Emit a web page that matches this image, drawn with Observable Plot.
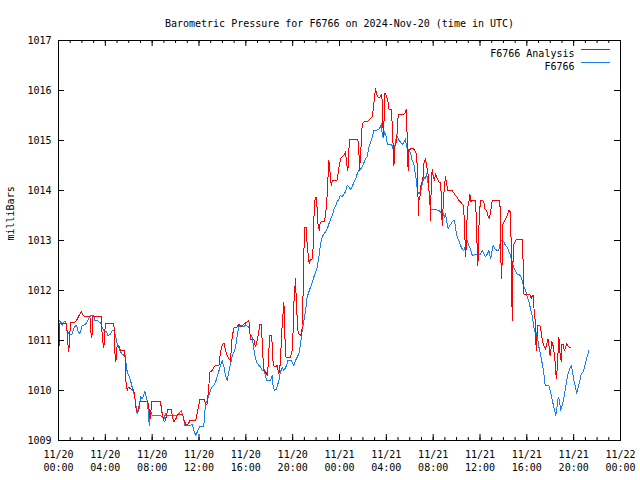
<!DOCTYPE html>
<html>
<head>
<meta charset="utf-8">
<script src="https://cdn.jsdelivr.net/npm/d3@7"></script>
<script src="https://cdn.jsdelivr.net/npm/@observablehq/plot@0.6"></script>
<style>
  html, body { margin: 0; padding: 0; background: #fff; }
  #chart svg { display: block; }
</style>
</head>
<body>
<div id="chart"></div>
<script>
const chartTitle = "Barometric Pressure for F6766 on 2024-Nov-20 (time in UTC)";
const yLabel = "milliBars";
const seriesNames = ["F6766 Analysis", "F6766"];
const seriesColors = ["#ff0000", "#1a80f0"];
const startDay = Date.UTC(2024, 10, 20);
const xDomainHours = [0, 48];
const yDomain = [1009, 1017];
const yTicks = [1009, 1010, 1011, 1012, 1013, 1014, 1015, 1016, 1017];
const majorTickHours = [0, 4, 8, 12, 16, 20, 24, 28, 32, 36, 40, 44, 48];
const minorTickHours = d3.range(0, 49, 1);

// F6766 Analysis (red): hours since 11/20 00:00 UTC, pressure in mb
const analysisHours = [
  0, 0.05, 0.12, 0.68, 0.8, 0.88, 1.03, 1.45, 1.6, 1.75,
  1.96, 2.16, 2.68, 2.76, 2.85, 2.93, 3.64, 3.76, 3.87, 3.96,
  4.04, 4.73, 4.81, 4.9, 5.0, 5.15, 5.3, 5.64, 5.7, 5.75,
  5.87, 5.95, 6.15, 6.38, 6.49, 6.6, 6.72, 6.83, 6.95, 7.06,
  7.63, 7.75, 7.83, 7.97, 8.71, 8.83, 9.0, 9.08, 9.23, 9.34,
  9.62, 9.71, 9.85, 10.02, 10.19, 10.59, 10.7, 10.85, 10.99, 11.13,
  11.22, 11.73, 11.9, 12.07, 12.43, 12.56, 12.7, 12.81, 12.93, 13.13,
  13.27, 13.41, 13.7, 13.84, 13.98, 14.13, 14.27, 14.41, 14.55, 14.69,
  14.83, 14.98, 15.26, 15.4, 15.55, 15.69, 15.97, 16.26, 16.34, 16.4,
  16.69, 16.83, 17.03, 17.2, 17.34, 17.42, 17.54, 17.71, 17.82, 17.91,
  18.03, 18.2, 18.25, 18.34, 18.54, 18.68, 18.82, 18.96, 19.05, 19.16,
  19.25, 19.31, 19.39, 19.82, 19.96, 20.04, 20.1, 20.24, 20.33, 20.45,
  20.53, 20.73, 20.84, 20.9, 21.01, 21.18, 21.24, 21.33, 21.41, 21.47,
  21.67, 21.76, 21.82, 21.9, 22.01, 22.1, 22.16, 22.27, 22.33, 22.44,
  22.72, 22.81, 22.95, 23.09, 23.18, 23.29, 23.38, 23.8, 23.95, 24.09,
  24.23, 24.37, 24.52, 24.6, 24.72, 24.8, 24.89, 25.57, 25.66, 25.71,
  25.8, 25.94, 26.08, 26.36, 26.6, 26.8, 26.88, 26.96, 27.08, 27.16,
  27.28, 27.5, 27.56, 27.65, 27.71, 27.76, 27.82, 27.88, 27.99, 28.13,
  28.22, 28.45, 28.5, 28.59, 28.65, 28.7, 28.87, 29.02, 29.21, 29.5,
  29.64, 29.7, 29.79, 29.86, 29.93, 30.07, 30.21, 30.36, 30.5, 30.58,
  30.64, 30.69, 30.75, 30.8, 30.86, 30.92, 31.05, 31.15, 31.2, 31.35,
  31.49, 31.6, 31.66, 31.72, 31.78, 31.83, 31.92, 32.01, 32.12, 32.2,
  32.35, 32.49, 32.63, 32.7, 32.77, 32.86, 32.97, 33.06, 33.15, 33.26,
  33.63, 33.77, 33.91, 34.05, 34.19, 34.33, 34.48, 34.6, 34.68, 34.77,
  34.85, 34.91, 35.05, 35.14, 35.2, 35.34, 35.62, 35.71, 35.76, 35.82,
  35.88, 35.94, 36.05, 36.19, 36.33, 36.42, 36.56, 36.68, 36.79, 36.9,
  37.04, 37.7, 37.76, 37.82, 37.88, 37.93, 38.04, 38.18, 38.32, 38.47,
  38.61, 38.67, 38.75, 38.82, 38.89, 39.04, 39.18, 39.6, 39.66, 39.72,
  39.8, 40.18, 40.3, 40.38, 40.47, 40.55, 40.6, 40.69, 40.75, 40.8,
  40.86, 40.94, 41.11, 41.2, 41.26, 41.33, 41.4, 41.5, 41.6, 41.7,
  41.8, 41.88, 41.94, 42.03, 42.11, 42.2, 42.31, 42.4, 42.45, 42.51,
  42.6, 42.66, 42.74, 42.8, 42.88, 42.94, 43.0, 43.1, 43.17, 43.23,
  43.31, 43.39, 43.5, 43.59, 43.79
];
const analysisValues = [
  1011.2, 1010.9, 1011.35, 1011.35, 1010.93, 1010.77, 1011.37, 1011.37, 1011.43, 1011.5,
  1011.57, 1011.49, 1011.49, 1011.17, 1011.05, 1011.48, 1011.48, 1011.0, 1010.85, 1011.2,
  1011.35, 1011.35, 1010.77, 1010.57, 1010.87, 1010.9, 1010.8, 1010.8, 1010.6, 1010.2,
  1010.0, 1010.07, 1010.03, 1010.03, 1009.93, 1009.67, 1009.57, 1009.63, 1009.77, 1009.78,
  1009.78, 1009.6, 1009.43, 1009.78, 1009.78, 1009.57, 1009.4, 1009.37, 1009.5, 1009.63,
  1009.63, 1009.5, 1009.37, 1009.43, 1009.53, 1009.53, 1009.43, 1009.33, 1009.31, 1009.35,
  1009.41, 1009.41, 1009.6, 1009.83, 1009.83, 1009.73, 1009.73, 1010.0, 1010.37, 1010.4,
  1010.47, 1010.5, 1010.5, 1010.77, 1010.9, 1010.95, 1010.8, 1010.7, 1010.63, 1010.6,
  1011.07, 1011.25, 1011.27, 1011.33, 1011.28, 1011.3, 1011.35, 1011.4, 1011.17, 1011.03,
  1011.01, 1010.87, 1011.07, 1011.33, 1011.33, 1010.8, 1010.4, 1010.37, 1010.3, 1010.5,
  1011.1, 1011.1, 1010.93, 1010.5, 1010.47, 1010.5, 1010.33, 1010.57, 1011.13, 1011.47,
  1011.77, 1011.33, 1010.67, 1010.67, 1010.8, 1011.2, 1011.73, 1012.23, 1011.67, 1011.2,
  1011.13, 1011.1, 1011.3, 1012.13, 1013.27, 1013.27, 1012.87, 1012.73, 1012.53, 1012.6,
  1012.63, 1012.9, 1013.47, 1013.8, 1013.87, 1013.6, 1013.33, 1013.2, 1013.33, 1013.37,
  1013.39, 1013.5, 1013.93, 1014.6, 1014.4, 1014.1, 1014.2, 1014.21, 1014.47, 1014.63,
  1014.68, 1014.7, 1014.77, 1014.53, 1014.4, 1014.83, 1015.02, 1015.02, 1014.75, 1014.4,
  1014.7, 1015.33, 1015.37, 1015.38, 1015.43, 1015.47, 1015.63, 1015.8, 1016.03, 1015.93,
  1015.87, 1015.87, 1015.93, 1015.8, 1015.27, 1015.07, 1015.53, 1015.95, 1015.9, 1015.8,
  1015.63, 1015.63, 1015.27, 1014.87, 1014.5, 1014.87, 1014.97, 1015.53, 1015.53, 1015.52,
  1015.57, 1015.63, 1015.0, 1014.4, 1014.83, 1014.83, 1014.85, 1014.82, 1014.77, 1014.73,
  1014.47, 1014.0, 1013.5, 1013.87, 1013.83, 1014.07, 1014.17, 1014.3, 1014.53, 1014.63,
  1014.43, 1014.27, 1013.9, 1013.77, 1013.4, 1014.1, 1014.43, 1014.27, 1014.2, 1014.33,
  1014.23, 1014.17, 1014.17, 1013.87, 1013.3, 1013.73, 1014.13, 1014.27, 1014.13, 1014.0,
  1014.0, 1013.95, 1013.9, 1013.87, 1013.8, 1013.77, 1013.73, 1013.7, 1013.27, 1012.67,
  1013.0, 1013.6, 1013.77, 1013.93, 1013.77, 1013.81, 1013.8, 1013.27, 1012.83, 1012.5,
  1013.0, 1013.53, 1013.8, 1013.8, 1013.77, 1013.63, 1013.6, 1013.5, 1013.43, 1013.57,
  1013.8, 1013.8, 1013.03, 1012.23, 1012.5, 1013.3, 1013.37, 1013.43, 1013.5, 1013.6,
  1013.57, 1012.8, 1011.4, 1012.6, 1012.93, 1013.0, 1013.03, 1013.03, 1012.83, 1011.93,
  1011.93, 1011.93, 1011.9, 1011.83, 1011.9, 1011.9, 1011.67, 1011.47, 1011.17, 1010.8,
  1011.07, 1011.3, 1011.3, 1011.2, 1011.1, 1011.0, 1010.93, 1010.87, 1010.83, 1010.93,
  1011.03, 1010.93, 1010.73, 1010.7, 1010.97, 1010.95, 1010.8, 1010.6, 1010.47, 1010.23,
  1010.43, 1010.73, 1011.07, 1010.8, 1010.7, 1010.57, 1010.93, 1010.93, 1010.83, 1010.8,
  1010.87, 1010.93, 1010.9, 1010.87, 1010.85
];

// F6766 observed (blue)
const stationHours = [
  0, 0.17, 0.34, 0.46, 0.6, 0.74, 0.88, 1.17, 1.37, 1.54,
  1.65, 1.82, 2.02, 2.3, 2.5, 2.68, 2.79, 3.02, 3.1, 3.36,
  3.59, 3.73, 3.87, 4.1, 4.21, 4.44, 4.58, 4.73, 4.87, 5.01,
  5.15, 5.3, 5.44, 5.58, 5.64, 5.75, 5.87, 6.0, 6.15, 6.29,
  6.38, 6.49, 6.6, 6.72, 6.86, 7.0, 7.14, 7.23, 7.37, 7.46,
  7.57, 7.69, 7.75, 7.86, 8.0, 8.43, 8.71, 9.0, 9.14, 9.28,
  9.57, 10.14, 10.5, 10.7, 10.76, 11.28, 11.42, 11.56, 11.73, 11.85,
  12.04, 12.41, 12.47, 12.56, 12.7, 12.84, 12.98, 13.13, 13.33, 13.5,
  13.67, 13.84, 13.98, 14.13, 14.27, 14.41, 14.55, 14.69, 14.84, 14.98,
  15.12, 15.26, 15.4, 15.55, 15.83, 15.97, 16.26, 16.34, 16.54, 16.63,
  16.74, 16.91, 17.11, 17.25, 17.4, 17.54, 17.68, 17.77, 18.11, 18.25,
  18.34, 18.45, 18.62, 18.82, 18.96, 19.11, 19.25, 19.48, 19.59, 19.87,
  20.1, 20.24, 20.39, 20.53, 20.67, 20.81, 20.96, 21.1, 21.24, 21.38,
  21.53, 21.67, 21.81, 21.96, 22.1, 22.24, 22.38, 22.52, 22.67, 22.81,
  22.95, 23.09, 23.24, 23.38, 23.53, 23.67, 23.8, 23.95, 24.07, 24.23,
  24.37, 24.52, 24.66, 24.8, 24.94, 25.08, 25.23, 25.37, 25.51, 25.65,
  25.8, 25.94, 26.08, 26.22, 26.37, 26.5, 26.65, 26.79, 26.94, 27.08,
  27.36, 27.5, 27.59, 27.65, 27.76, 27.85, 27.99, 28.08, 28.36, 28.5,
  28.59, 28.7, 28.79, 28.9, 29.07, 29.21, 29.36, 29.5, 29.64, 29.73,
  29.93, 30.07, 30.21, 30.35, 30.5, 30.58, 30.64, 30.78, 30.92, 31.07,
  31.2, 31.3, 31.44, 31.53, 31.63, 31.72, 31.78, 31.92, 32.35, 32.49,
  32.63, 32.77, 32.86, 32.97, 33.06, 33.2, 33.28, 33.43, 33.63, 33.77,
  33.86, 33.94, 34.05, 34.19, 34.34, 34.48, 34.62, 34.77, 34.91, 35.05,
  35.19, 35.34, 35.9, 36.05, 36.19, 36.33, 36.48, 36.62, 36.76, 36.9,
  37.04, 37.13, 37.3, 37.47, 37.6, 37.76, 37.9, 38.04, 38.18, 38.33,
  38.47, 38.61, 38.75, 38.89, 39.04, 39.18, 39.46, 39.6, 39.75, 39.89,
  40.04, 40.18, 40.32, 40.46, 40.6, 40.69, 40.75, 40.89, 41.03, 41.17,
  41.32, 41.46, 41.54, 41.6, 41.88, 42.03, 42.17, 42.31, 42.4, 42.48,
  42.59, 42.68, 42.8, 42.88, 42.97, 43.1, 43.22, 43.36, 43.51, 43.65,
  43.79, 43.88, 44.02, 44.17, 44.25, 44.36, 44.53, 44.65, 44.82, 44.96,
  45.1, 45.3
];
const stationValues = [
  1011.4, 1011.38, 1011.3, 1011.37, 1011.38, 1011.2, 1011.13, 1011.13, 1011.28, 1011.3,
  1011.2, 1011.13, 1011.3, 1011.32, 1011.4, 1011.48, 1011.5, 1011.5, 1011.4, 1011.39,
  1011.35, 1011.27, 1011.2, 1011.17, 1011.1, 1011.13, 1011.2, 1011.19, 1011.1, 1010.93,
  1010.87, 1010.77, 1010.73, 1010.7, 1010.8, 1010.57, 1010.37, 1010.3, 1010.2, 1010.07,
  1009.97, 1009.9, 1009.73, 1009.53, 1009.6, 1009.87, 1009.83, 1009.87, 1009.99, 1009.9,
  1009.8, 1009.53, 1009.3, 1009.6, 1009.5, 1009.5, 1009.5, 1009.43, 1009.53, 1009.5,
  1009.5, 1009.5, 1009.6, 1009.43, 1009.3, 1009.3, 1009.33, 1009.2, 1009.1, 1009.17,
  1009.28, 1009.28, 1009.5, 1009.73, 1009.8, 1009.9, 1010.0, 1010.08, 1010.12, 1010.23,
  1010.37, 1010.5, 1010.6, 1010.47, 1010.3, 1010.2, 1010.37, 1010.53, 1010.7, 1010.77,
  1010.87, 1011.1, 1011.28, 1011.3, 1011.28, 1011.31, 1011.27, 1011.13, 1011.07, 1010.93,
  1010.73, 1010.57, 1010.5, 1010.47, 1010.4, 1010.43, 1010.3, 1010.2, 1010.2, 1010.3,
  1010.07, 1010.0, 1010.03, 1010.2, 1010.37, 1010.47, 1010.4, 1010.5, 1010.6, 1010.6,
  1010.5, 1010.6, 1010.67, 1010.73, 1010.93, 1011.2, 1011.4, 1011.6, 1011.87, 1011.97,
  1012.07, 1012.17, 1012.27, 1012.37, 1012.47, 1012.67, 1012.93, 1013.07, 1013.13, 1013.17,
  1013.23, 1013.33, 1013.43, 1013.5, 1013.63, 1013.7, 1013.77, 1013.83, 1013.9, 1013.87,
  1013.93, 1013.97, 1014.1, 1014.07, 1014.03, 1014.07, 1014.17, 1014.23, 1014.33, 1014.4,
  1014.43, 1014.47, 1014.55, 1014.63, 1014.68, 1014.85, 1014.97, 1015.05, 1015.2, 1015.2,
  1015.23, 1015.27, 1015.33, 1015.1, 1015.07, 1015.17, 1015.07, 1014.93, 1014.93, 1014.9,
  1014.8, 1014.83, 1015.0, 1015.1, 1015.0, 1014.97, 1014.92, 1014.97, 1015.03, 1014.87,
  1014.8, 1014.75, 1014.6, 1014.53, 1014.3, 1014.2, 1014.0, 1013.93, 1013.97, 1014.13,
  1014.27, 1014.23, 1014.33, 1014.2, 1014.03, 1013.8, 1013.63, 1013.63, 1013.61, 1013.6,
  1013.57, 1013.6, 1013.53, 1013.47, 1013.53, 1013.33, 1013.23, 1013.3, 1013.37, 1013.41,
  1013.33, 1013.2, 1013.07, 1013.0, 1012.9, 1012.83, 1012.8, 1012.9, 1013.0, 1012.9,
  1012.83, 1012.7, 1012.73, 1012.73, 1012.8, 1012.73, 1012.67, 1012.73, 1012.8, 1012.63,
  1012.8, 1012.9, 1012.83, 1012.8, 1012.8, 1013.0, 1013.01, 1012.97, 1012.9, 1012.87,
  1012.77, 1012.7, 1012.55, 1012.45, 1012.38, 1012.33, 1012.3, 1012.2, 1012.07, 1012.0,
  1011.87, 1011.77, 1011.63, 1011.5, 1011.27, 1011.17, 1011.2, 1011.1, 1010.87, 1010.73,
  1010.53, 1010.33, 1010.13, 1010.1, 1010.1, 1009.97, 1009.8, 1009.67, 1009.57, 1009.5,
  1009.7, 1009.87, 1009.8, 1009.6, 1009.67, 1009.77, 1009.93, 1010.13, 1010.33, 1010.43,
  1010.5, 1010.4, 1010.2, 1010.07, 1009.93, 1010.03, 1010.2, 1010.33, 1010.37, 1010.5,
  1010.63, 1010.8
];

const toDate = h => new Date(startDay + h * 3600e3);
const analysis = analysisHours.map((h, i) => ({t: toDate(h), v: analysisValues[i]}));
const station = stationHours.map((h, i) => ({t: toDate(h), v: stationValues[i]}));
const majorTicks = majorTickHours.map(toDate);
const minorTicks = minorTickHours.map(toDate);
const fmtDay = d3.utcFormat("%m/%d");
const fmtTime = d3.utcFormat("%H:%M");

const W = 640, H = 480, mL = 58, mR = 20, mT = 40, mB = 40;
const fw = W - mL - mR, fh = H - mT - mB;
const majorLen = 6, minorLen = 3;

const chart = Plot.plot({
  width: W, height: H,
  marginLeft: mL, marginRight: mR, marginTop: mT, marginBottom: mB,
  style: {fontFamily: "'DejaVu Sans Mono', monospace", fontSize: "10px", background: "#fff", color: "#000"},
  x: {type: "utc", domain: xDomainHours.map(toDate), axis: null},
  y: {domain: yDomain, axis: null},
  marks: [
    Plot.line(station, {x: "t", y: "v", stroke: seriesColors[1], strokeWidth: 1, shapeRendering: "crispEdges"}),
    Plot.line(analysis, {x: "t", y: "v", stroke: seriesColors[0], strokeWidth: 1, shapeRendering: "crispEdges"}),
    Plot.frame({stroke: "#000", strokeWidth: 1}),
    // inward ticks (gnuplot style) on all four sides
    Plot.tickX(majorTicks, {x: d => d, insetTop: fh - majorLen, stroke: "#000"}),
    Plot.tickX(majorTicks, {x: d => d, insetBottom: fh - majorLen, stroke: "#000"}),
    Plot.tickX(minorTicks, {x: d => d, insetTop: fh - minorLen, stroke: "#000"}),
    Plot.tickX(minorTicks, {x: d => d, insetBottom: fh - minorLen, stroke: "#000"}),
    Plot.tickY(yTicks, {y: d => d, insetRight: fw - majorLen, stroke: "#000"}),
    Plot.tickY(yTicks, {y: d => d, insetLeft: fw - majorLen, stroke: "#000"}),
    // tick labels
    Plot.text(yTicks, {y: d => d, frameAnchor: "left", textAnchor: "end", dx: -7, text: d => String(d), fill: "#000"}),
    Plot.text(majorTicks, {x: d => d, frameAnchor: "bottom", lineAnchor: "middle", dy: 14, text: d => fmtDay(d), fill: "#000"}),
    Plot.text(majorTicks, {x: d => d, frameAnchor: "bottom", lineAnchor: "middle", dy: 27, text: d => fmtTime(d), fill: "#000"}),
    // title and axis label
    Plot.text([chartTitle], {frameAnchor: "top", dy: -21, fill: "#000"}),
    Plot.text([yLabel], {frameAnchor: "left", rotate: -90, dx: -48, fill: "#000"}),
    // legend
    Plot.text([seriesNames[0]], {frameAnchor: "top-right", textAnchor: "end", dx: -46, dy: 9, fill: "#000"}),
    Plot.text([seriesNames[1]], {frameAnchor: "top-right", textAnchor: "end", dx: -46, dy: 22, fill: "#000"}),
    Plot.tickY([yDomain[1]], {y: d => d, dy: 9, insetLeft: fw - 39, insetRight: 10, stroke: seriesColors[0]}),
    Plot.tickY([yDomain[1]], {y: d => d, dy: 22, insetLeft: fw - 39, insetRight: 10, stroke: seriesColors[1]})
  ]
});
document.getElementById("chart").appendChild(chart);
</script>
</body>
</html>
